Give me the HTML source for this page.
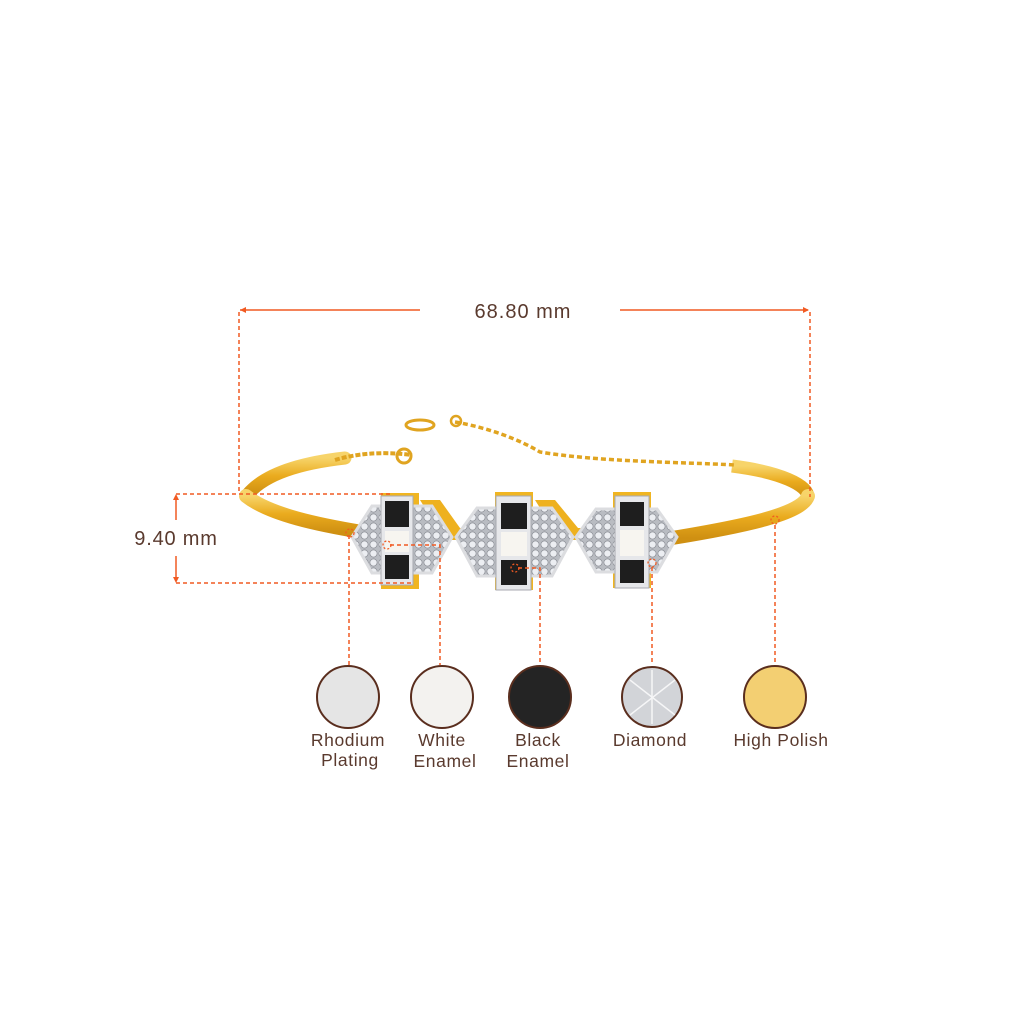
<!DOCTYPE html>
<html><head><style>
html,body{margin:0;padding:0;background:#fff;}
svg{display:block;}
text{font-family:"Liberation Sans",sans-serif;fill:#5a3a2e;}
</style></head><body>
<svg width="1024" height="1024" viewBox="0 0 1024 1024" xmlns="http://www.w3.org/2000/svg">
<defs>
<linearGradient id="gold" x1="0" y1="0" x2="0" y2="1">
<stop offset="0" stop-color="#f7d46a"/><stop offset="0.5" stop-color="#eaab1e"/><stop offset="1" stop-color="#cf9012"/>
</linearGradient>
<pattern id="pave" width="9" height="9" patternUnits="userSpaceOnUse">
<rect width="9" height="9" fill="#b9bcc2"/>
<circle cx="4.5" cy="4.5" r="3.6" fill="#eceef2" stroke="#8d9097" stroke-width="0.7"/>
</pattern>
</defs>
<!-- bangle -->
<path d="M248,494 C265,474 300,463 345,458" stroke="url(#gold)" stroke-width="13" fill="none" stroke-linecap="round"/>
<path d="M246,496 C270,515 320,525 362,532" stroke="url(#gold)" stroke-width="14" fill="none" stroke-linecap="round"/>
<path d="M732,466 C780,472 808,485 808,497" stroke="url(#gold)" stroke-width="13" fill="none"/>
<path d="M808,496 C802,514 745,526 672,538" stroke="url(#gold)" stroke-width="14" fill="none" stroke-linecap="round"/>
<!-- chain -->
<path d="M335,460 C355,454 380,451 412,455" stroke="#e0a420" stroke-width="4" stroke-dasharray="5 2" fill="none"/>
<circle cx="404" cy="456" r="7" fill="none" stroke="#e0a420" stroke-width="3"/>
<path d="M455,422 C490,428 520,440 540,452 C600,462 680,462 735,465" stroke="#e0a420" stroke-width="3.5" stroke-dasharray="5 3" fill="none"/>
<ellipse cx="420" cy="425" rx="14" ry="5" fill="none" stroke="#e0a420" stroke-width="3"/>
<circle cx="456" cy="421" r="5" fill="none" stroke="#e0a420" stroke-width="2.5"/>
<!-- charm gold backs -->
<rect x="381" y="493" width="38" height="96" fill="#f0b521"/>
<rect x="495" y="492" width="38" height="98" fill="#f0b521"/>
<rect x="613" y="492" width="38" height="96" fill="#f0b521"/>
<path d="M420,500 L440,500 L460,528 L475,528 L475,540 L445,540Z" fill="#eeb11f"/>
<path d="M535,500 L555,500 L578,528 L590,528 L590,540 L560,540Z" fill="#eeb11f"/>
<!-- hexes -->
<polygon points="352,537 372,506 432,506 452,537 432,573 372,573" fill="url(#pave)" stroke="#dcdde0" stroke-width="3"/>
<polygon points="456,537 477,508 552,508 573,537 552,576 477,576" fill="url(#pave)" stroke="#dcdde0" stroke-width="3"/>
<polygon points="576,537 596,509 657,509 677,537 657,572 596,572" fill="url(#pave)" stroke="#dcdde0" stroke-width="3"/>
<!-- bars -->
<rect x="381" y="496" width="32" height="89" fill="#e6e7ea" stroke="#a8aab0"/>
<rect x="385" y="501" width="24" height="26" fill="#1e1e1e"/>
<rect x="385" y="531" width="24" height="21" fill="#f7f5f0"/>
<rect x="385" y="555" width="24" height="24" fill="#1e1e1e"/>
<rect x="496" y="496" width="35" height="94" fill="#e6e7ea" stroke="#a8aab0"/>
<rect x="501" y="503" width="26" height="26" fill="#1e1e1e"/>
<rect x="501" y="532" width="26" height="24" fill="#f7f5f0"/>
<rect x="501" y="560" width="26" height="25" fill="#1e1e1e"/>
<rect x="615" y="496" width="34" height="92" fill="#e6e7ea" stroke="#a8aab0"/>
<rect x="620" y="502" width="24" height="24" fill="#1e1e1e"/>
<rect x="620" y="530" width="24" height="26" fill="#f7f5f0"/>
<rect x="620" y="560" width="24" height="23" fill="#1e1e1e"/>
<!-- dimension lines -->
<g stroke="#f15a22" fill="none">
<line x1="240" y1="310" x2="420" y2="310" stroke-width="1.5"/>
<line x1="620" y1="310" x2="808" y2="310" stroke-width="1.5"/>
<g stroke-dasharray="4 3" stroke-width="1.5">
<line x1="239" y1="312" x2="239" y2="492"/>
<line x1="810" y1="312" x2="810" y2="497"/>
<line x1="176" y1="494" x2="390" y2="494"/>
<line x1="176" y1="583" x2="414" y2="583"/>
<line x1="349" y1="535" x2="349" y2="665"/>
<polyline points="390,545 440,545 440,665"/>
<polyline points="518,568 540,568 540,665"/>
<line x1="652" y1="567" x2="652" y2="665"/>
<line x1="775" y1="525" x2="775" y2="665"/>
</g>
<line x1="176" y1="496" x2="176" y2="520" stroke-width="1.5"/>
<line x1="176" y1="556" x2="176" y2="581" stroke-width="1.5"/>
<g stroke-dasharray="2 2" stroke-width="1.3">
<circle cx="350" cy="533" r="4"/><circle cx="387" cy="545" r="4"/><circle cx="515" cy="568" r="4"/><circle cx="652" cy="563" r="4"/><circle cx="775" cy="520" r="4"/>
</g>
</g>
<g fill="#f15a22">
<polygon points="240,310 246,307 246,313"/>
<polygon points="809,310 803,307 803,313"/>
<polygon points="176,494 173,500 179,500"/>
<polygon points="176,583 173,577 179,577"/>
</g>
<text x="523" y="318" font-size="20" letter-spacing="1" text-anchor="middle">68.80 mm</text>
<text x="176" y="545" font-size="20" letter-spacing="0.8" text-anchor="middle">9.40 mm</text>
<!-- swatches -->
<g stroke="#5a2e1e" stroke-width="2">
<circle cx="348" cy="697" r="31" fill="#e5e5e5"/>
<circle cx="442" cy="697" r="31" fill="#f3f2ef"/>
<circle cx="540" cy="697" r="31" fill="#242424"/>
<circle cx="652" cy="697" r="30" fill="#d2d4d8"/>
<circle cx="775" cy="697" r="31" fill="#f3cf72"/>
</g>
<g stroke="#fff" stroke-width="1.5" opacity="0.8">
<line x1="630" y1="680" x2="675" y2="715"/><line x1="675" y1="680" x2="630" y2="715"/><line x1="652" y1="670" x2="652" y2="724"/>
</g>
<g font-size="17.5" letter-spacing="0.6" text-anchor="middle">
<text x="348" y="746">Rhodium</text><text x="350" y="766">Plating</text>
<text x="442" y="746">White</text><text x="445" y="767">Enamel</text>
<text x="538" y="746">Black</text><text x="538" y="767">Enamel</text>
<text x="650" y="746">Diamond</text>
<text x="781" y="746">High Polish</text>
</g>
</svg>
</body></html>
